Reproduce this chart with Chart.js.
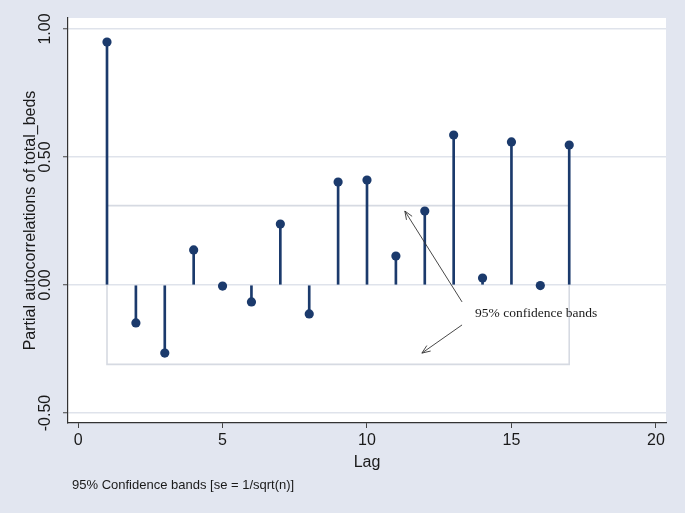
<!DOCTYPE html>
<html><head><meta charset="utf-8">
<script src="https://cdn.jsdelivr.net/npm/chart.js@4"></script>
<style>html,body{margin:0;padding:0;background:#e2e6f0;overflow:hidden}</style>
</head><body>
<canvas id="c" width="685" height="513"></canvas>
<script>
// ---- data ----
const lags = [1,2,3,4,5,6,7,8,9,10,11,12,13,14,15,16,17];
const pacf = [0.949,-0.148,-0.266,0.137,-0.004,-0.066,0.238,-0.113,0.402,0.410,0.113,0.289,0.586,0.027,0.559,-0.002,0.547];
const bandUpper = [0.31];
const bandLower = [-0.31];
const xTicks = [0,5,10,15,20];
const yTicks = [-0.5,0,0.5,1];
const yTickLabels = ['-0.50','0.00','0.50','1.00'];
const yTitle = 'Partial autocorrelations of total_beds';
const xTitle = 'Lag';
const noteText = '95% Confidence bands [se = 1/sqrt(n)]';
const annText = '95% confidence bands';
// annotation arrows (data coordinates): [fromX, fromY, toX, toY]
const arrows = [[13.29,-0.066,11.31,0.289],[13.29,-0.156,11.9,-0.266]];
const annPos = [13.74,-0.11];

const NAVY = '#1b3a6c';
const BG = '#e2e6f0';
const TEXT = '#1a1a1a';
const SANS = '"Liberation Sans", Arial, sans-serif';

const pts = lags.map((l,i)=>({x:l,y:pacf[i]}));
const first = lags[0], last = lags[lags.length-1];
const band = [
  {x:first,y:bandUpper[0]},{x:last,y:bandUpper[0]},
  {x:last,y:bandLower[0]},{x:first,y:bandLower[0]},{x:first,y:bandUpper[0]}
];

const decor = {
  id:'decor',
  beforeDraw(chart){
    const {ctx, chartArea:a} = chart;
    ctx.save();
    ctx.fillStyle = BG;
    ctx.fillRect(0,0,chart.width,chart.height);
    ctx.fillStyle = '#ffffff';
    ctx.fillRect(a.left,a.top,a.right-a.left,a.bottom-a.top);
    ctx.restore();
  },
  afterDraw(chart){
    const {ctx, chartArea:a, scales:{x,y}} = chart;
    ctx.save();
    ctx.fillStyle = TEXT;
    // y tick labels (rotated)
    ctx.font = '16px ' + SANS;
    ctx.textAlign = 'center';
    ctx.textBaseline = 'middle';
    yTicks.forEach((v,i)=>{
      ctx.save();
      ctx.translate(46, y.getPixelForValue(v));
      ctx.rotate(-Math.PI/2);
      ctx.fillText(yTickLabels[i],0,0);
      ctx.restore();
    });
    // y title
    ctx.save();
    ctx.translate(31,(a.top+a.bottom)/2);
    ctx.rotate(-Math.PI/2);
    ctx.font = '16px ' + SANS;
    ctx.fillText(yTitle,0,0);
    ctx.restore();
    // x tick labels
    ctx.font = '16px ' + SANS;
    xTicks.forEach(v=>{
      ctx.fillText(String(v), x.getPixelForValue(v), 441);
    });
    // x title
    ctx.fillText(xTitle,(a.left+a.right)/2,463);
    // note
    ctx.font = '13px ' + SANS;
    ctx.textAlign = 'left';
    ctx.fillText(noteText,72,485);
    // annotation
    ctx.font = '13.5px "Liberation Serif", "Times New Roman", serif';
    ctx.fillText(annText, x.getPixelForValue(annPos[0]), y.getPixelForValue(annPos[1]));
    ctx.strokeStyle = '#333';
    ctx.lineWidth = 0.9;
    arrows.forEach(([fx,fy,tx,ty])=>{
      const x1=x.getPixelForValue(fx), y1=y.getPixelForValue(fy);
      const x2=x.getPixelForValue(tx), y2=y.getPixelForValue(ty);
      ctx.beginPath(); ctx.moveTo(x1,y1); ctx.lineTo(x2,y2); ctx.stroke();
      const ang = Math.atan2(y2-y1,x2-x1), L=9, w=0.38;
      ctx.beginPath();
      ctx.moveTo(x2-L*Math.cos(ang-w), y2-L*Math.sin(ang-w));
      ctx.lineTo(x2,y2);
      ctx.lineTo(x2-L*Math.cos(ang+w), y2-L*Math.sin(ang+w));
      ctx.stroke();
    });
    ctx.restore();
  }
};

new Chart(document.getElementById('c'), {
  type:'scatter',
  data:{datasets:[
    {type:'line', data:band, borderColor:'#d6dae2', borderWidth:1.6, pointRadius:0, fill:false, tension:0, order:3},
    {type:'bar', data:pts, backgroundColor:NAVY, borderWidth:0, barThickness:2, order:2},
    {type:'scatter', data:pts, pointRadius:4.6, pointBackgroundColor:NAVY, pointBorderWidth:0, order:1}
  ]},
  options:{
    responsive:false, animation:false, devicePixelRatio:1,
    layout:{padding:{left:48,right:19,top:18,bottom:0}},
    plugins:{legend:{display:false}, tooltip:{enabled:false}},
    scales:{
      x:{type:'linear', min:-0.35, max:20.35, offset:false,
         afterBuildTicks:s=>{s.ticks = xTicks.map(v=>({value:v}));},
         afterFit:s=>{s.height = 90;},
         ticks:{display:false},
         grid:{offset:false, drawOnChartArea:false, drawTicks:true, tickLength:5, tickColor:'#444', tickWidth:1},
         border:{display:true, color:'#333', width:1.2}},
      y:{type:'linear', min:-0.539, max:1.043,
         afterBuildTicks:s=>{s.ticks = yTicks.map(v=>({value:v}));},
         afterFit:s=>{s.width = 20;},
         ticks:{display:false},
         grid:{offset:false, color:'#dfe3eb', lineWidth:1.5, drawTicks:true, tickLength:5, tickColor:'#444', tickWidth:1},
         border:{display:true, color:'#333', width:1.2}}
    }
  },
  plugins:[decor]
});
</script>
</body></html>
